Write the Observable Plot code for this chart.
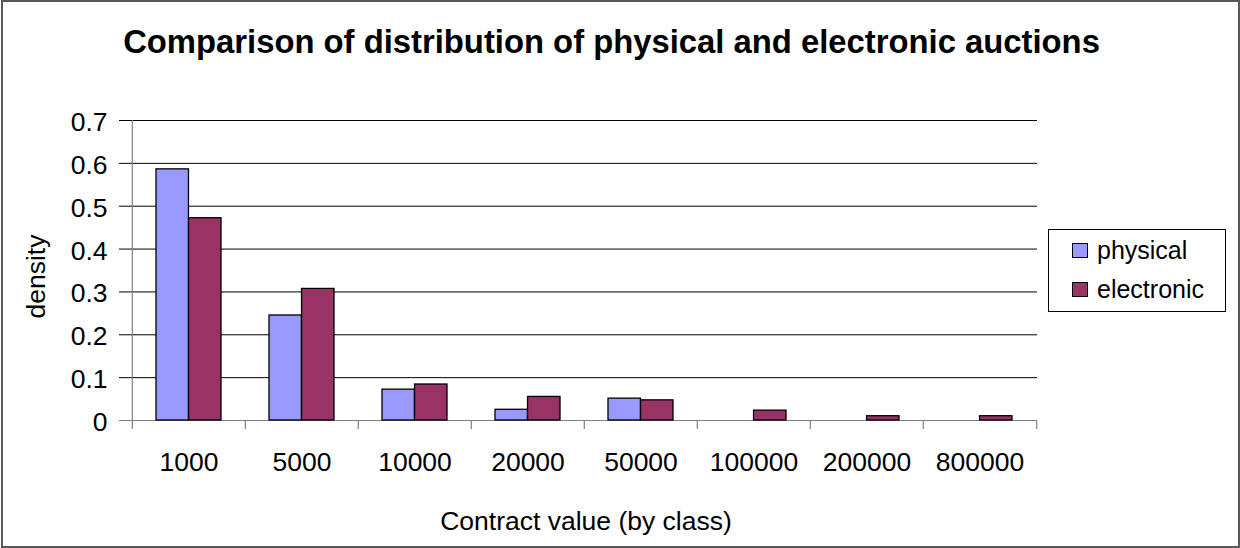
<!DOCTYPE html>
<html>
<head>
<meta charset="utf-8">
<script src="https://cdn.jsdelivr.net/npm/d3@7"></script>
<script src="https://cdn.jsdelivr.net/npm/@observablehq/plot@0.6"></script>
<style>
  html, body { margin: 0; padding: 0; background: #fff; }
  #chart { position: relative; width: 1240px; height: 548px; overflow: hidden;
           font-family: "Liberation Sans", Arial, sans-serif; }
  #border { position: absolute; left: 1px; top: 0; width: 1239px; height: 548px;
            box-sizing: border-box; border: 2px solid #5a5a5a; pointer-events: none; }
  #legend { position: absolute; left: 1048px; top: 229px; width: 178px; height: 83px;
            box-sizing: border-box; border: 1px solid #000; background: #fff; }
  #legend .row { position: absolute; left: 23px; height: 39px; display: flex; align-items: center;
                 font-size: 25px; line-height: 39px; color: #000; }
  #legend .sw { width: 16px; height: 15px; box-sizing: border-box; border: 1px solid #000;
                margin-right: 9px; flex: none; }
  svg { display: block; }
</style>
</head>
<body>
<div id="chart">
  <div id="plot"></div>
  <div id="legend"></div>
  <div id="border"></div>
</div>
<script>
// Contract value classes and the density of auctions in each class
const categories = ["1000", "5000", "10000", "20000", "50000", "100000", "200000", "800000"];
const physical   = [0.586, 0.245, 0.072, 0.025, 0.051, 0, 0, 0];
const electronic = [0.472, 0.307, 0.084, 0.055, 0.047, 0.023, 0.010, 0.010];
const yTicks     = [0, 0.1, 0.2, 0.3, 0.4, 0.5, 0.6, 0.7];
const seriesNames  = ["physical", "electronic"];
const seriesColors = ["#9999FF", "#993366"];

const titleText = "Comparison of distribution of physical and electronic auctions";
const xTitle = "Contract value (by class)";
const yTitle = "density";

// Layout
const W = 1240, H = 548;
const mL = 130, mR = 203, mT = 120, mB = 128;
const padIn = 0.426, padOut = 0.213;
const step = (W - mL - mR) / (categories.length - padIn + 2 * padOut);
const bw = step * (1 - padIn);
const font = "'Liberation Sans', Arial, sans-serif";
const fs = 26.5;

const rows = categories.flatMap((c, i) => [
  {category: c, series: "physical", value: physical[i]},
  {category: c, series: "electronic", value: electronic[i]}
]);
const bars = name => rows.filter(d => d.series === name && d.value > 0);
const fmt = d => String(+d.toFixed(1));
const last = categories[categories.length - 1];

const chart = Plot.plot({
  width: W, height: H,
  marginLeft: mL, marginRight: mR, marginTop: mT, marginBottom: mB,
  style: {fontFamily: font, fontSize: fs + "px", background: "transparent", color: "#000"},
  x: {domain: categories, paddingInner: padIn, paddingOuter: padOut, axis: null},
  y: {domain: [0, 0.7], axis: null},
  color: {domain: seriesNames, range: seriesColors},
  marks: [
    // horizontal gridlines with their left tick marks
    Plot.ruleY(yTicks.slice(1), {stroke: "#000", strokeWidth: 1, insetLeft: -11}),
    // category axis line
    Plot.ruleY([0], {stroke: "#808080", strokeWidth: 1.2, insetLeft: -11}),
    // value axis line
    Plot.ruleX([categories[0]], {dx: -step / 2, y1: 0, y2: 0.7, stroke: "#808080", strokeWidth: 1.2}),
    // category boundary ticks
    Plot.ruleX(categories, {dx: -step / 2, y1: 0, y2: 0, insetBottom: -9, stroke: "#808080", strokeWidth: 1.2}),
    Plot.ruleX([last], {dx: step / 2, y1: 0, y2: 0, insetBottom: -9, stroke: "#808080", strokeWidth: 1.2}),
    // bars
    Plot.barY(bars("physical"), {x: "category", y: "value", fill: "series", stroke: "#000", strokeWidth: 1.3, insetRight: bw / 2}),
    Plot.barY(bars("electronic"), {x: "category", y: "value", fill: "series", stroke: "#000", strokeWidth: 1.3, insetLeft: bw / 2}),
    // value tick labels
    Plot.text(yTicks, {y: d => d, text: fmt, frameAnchor: "left", textAnchor: "end", lineAnchor: "middle", dx: -23, dy: 2, fontSize: fs}),
    // category tick labels
    Plot.text(categories, {x: d => d, text: d => d, frameAnchor: "bottom", lineAnchor: "bottom", dy: 50.5, fontSize: fs}),
    // axis titles
    Plot.text([xTitle], {text: d => d, frameAnchor: "bottom", lineAnchor: "bottom", dx: 2, dy: 109.5, fontSize: fs}),
    Plot.text([yTitle], {text: d => d, frameAnchor: "left", lineAnchor: "middle", textAnchor: "middle", rotate: -90, dx: -93.5, dy: 6, fontSize: fs}),
    // chart title
    Plot.text([titleText], {text: d => d, frameAnchor: "top", lineAnchor: "bottom", dx: 27.5, dy: -67.5, fontSize: 32.8, fontWeight: "bold"})
  ]
});
document.getElementById("plot").appendChild(chart);

// Legend
const legend = document.getElementById("legend");
seriesNames.forEach((name, i) => {
  const row = document.createElement("div");
  row.className = "row";
  row.style.top = (0.5 + i * 39) + "px";
  const sw = document.createElement("span");
  sw.className = "sw";
  sw.style.background = seriesColors[i];
  row.appendChild(sw);
  row.appendChild(document.createTextNode(name));
  legend.appendChild(row);
});
</script>
</body>
</html>
